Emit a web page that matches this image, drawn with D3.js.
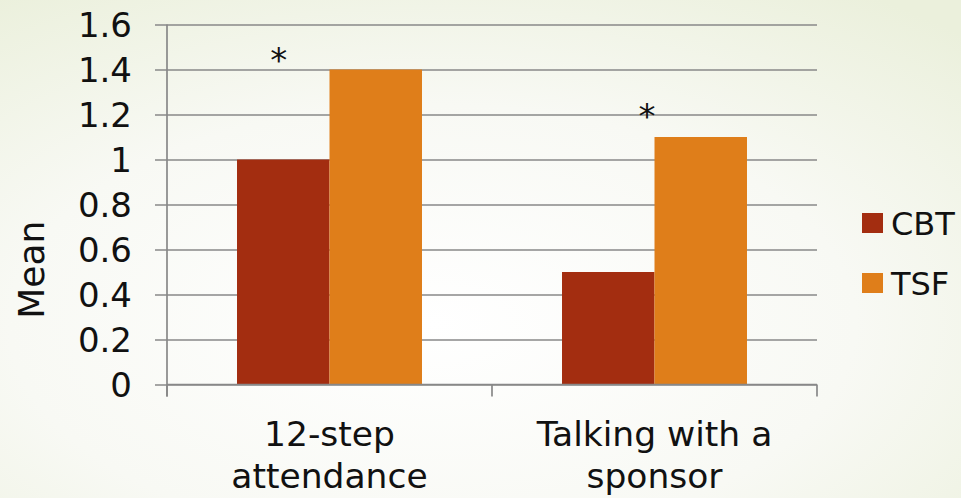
<!DOCTYPE html>
<html><head><meta charset="utf-8">
<script src="https://cdn.jsdelivr.net/npm/d3@7"></script>
<style>html,body{margin:0;padding:0;overflow:hidden}svg{display:block}</style>
</head><body>
<svg id="c" width="961" height="498"></svg>
<script>
const categories = [["12-step", "attendance"], ["Talking with a", "sponsor"]];
const seriesNames = ["CBT", "TSF"];
const cbtValues = [1.0, 0.5];
const tsfValues = [1.4, 1.1];
const yTicks = [0, 0.2, 0.4, 0.6, 0.8, 1, 1.2, 1.4, 1.6];
const starValues = [1.48, 1.23];
const colors = ["#a32d10", "#df7e1a"];

(function(){
const FONT = "'DejaVu Sans', sans-serif";
const svg = d3.select("#c");
const W = 961, H = 498;
const defs = svg.append("defs");
const rg = defs.append("radialGradient").attr("id","bg").attr("cx","0.45").attr("cy","0.65").attr("r","0.8");
rg.append("stop").attr("offset","0").attr("stop-color","#ffffff");
rg.append("stop").attr("offset","0.55").attr("stop-color","#f8f9f4");
rg.append("stop").attr("offset","1").attr("stop-color","#ebf0dc");
svg.append("rect").attr("width",W).attr("height",H).attr("fill","url(#bg)");

const pL = 167, pR = 817, pT = 24.5, pB = 384.5;
const y = d3.scaleLinear().domain([0,1.6]).range([pB, pT]);
const x0 = d3.scaleBand().domain(d3.range(categories.length)).range([pL,pR]).paddingInner(0).paddingOuter(0);
const x1 = d3.scaleBand().domain(seriesNames).range([0, x0.bandwidth()]).paddingInner(0).paddingOuter(0.757);

const yAxis = d3.axisLeft(y).tickValues(yTicks).tickSize(12).tickPadding(23)
  .tickFormat(d => d3.format("")(+d.toFixed(1)));
const gy = svg.append("g").attr("transform",`translate(${pL},0)`).call(yAxis);
gy.select(".domain").remove();
gy.selectAll(".tick line").attr("stroke","#888").attr("stroke-width",1.7).attr("x2",-12).attr("x1", pR-pL);
gy.selectAll(".tick text").attr("font-family",FONT).attr("font-size",34).attr("fill","#111").attr("dy","0.34em");
svg.append("line").attr("x1",pL).attr("x2",pL).attr("y1",y(1.6)).attr("y2",pB+12)
  .attr("stroke","#888").attr("stroke-width",1.7);

const data = categories.map((c,i)=>({i, vals:[cbtValues[i], tsfValues[i]]}));
const groups = svg.append("g").selectAll("g").data(data).join("g")
  .attr("transform", d=>`translate(${x0(d.i)},0)`);
groups.selectAll("rect").data(d=>d.vals.map((v,k)=>({k,v}))).join("rect")
  .attr("x", d=>x1(seriesNames[d.k])).attr("width", x1.bandwidth())
  .attr("y", d=>y(d.v)).attr("height", d=>pB - y(d.v))
  .attr("fill", d=>colors[d.k]);

const gx = svg.append("g").attr("transform",`translate(0,${pB})`);
gx.append("line").attr("x1",pL).attr("x2",pR).attr("stroke","#888").attr("stroke-width",1.7);
const bounds = d3.range(categories.length+1).map(i => i<categories.length ? x0(i) : x0(i-1)+x0.bandwidth());
gx.selectAll("line.t").data(bounds).join("line").attr("class","t")
  .attr("x1",d=>d).attr("x2",d=>d).attr("y1",0).attr("y2",12).attr("stroke","#888").attr("stroke-width",1.7);
const lab = gx.selectAll("text").data(categories).join("text")
  .attr("text-anchor","middle").attr("font-family",FONT).attr("font-size",34.5).attr("fill","#111")
  .attr("x",(d,i)=>x0(i)+x0.bandwidth()/2);
lab.selectAll("tspan").data(d=>d).join("tspan")
  .attr("x",function(){return this.parentNode.getAttribute("x");})
  .attr("y",(d,j)=>61+j*42).text(d=>d);

const starX = [x1("CBT")+x1.bandwidth()*0.45, x1("TSF")-x1.bandwidth()*0.08];
svg.selectAll("text.star").data(starValues).join("text").attr("class","star")
  .attr("x",(d,i)=>x0(i)+starX[i]).attr("y",d=>y(d)+20)
  .attr("text-anchor","middle").attr("font-family",FONT).attr("font-size",34).attr("fill","#111")
  .text("*");

svg.append("text").attr("transform",`translate(44,${y(0.51)}) rotate(-90)`)
  .attr("text-anchor","middle").attr("font-family",FONT).attr("font-size",36).attr("fill","#111").text("Mean");

const lg = svg.append("g").attr("transform","translate(862,213)");
const li = lg.selectAll("g").data(seriesNames).join("g").attr("transform",(d,i)=>`translate(0,${i*60})`);
li.append("rect").attr("width",21).attr("height",20).attr("fill",(d,i)=>colors[i]);
li.append("text").attr("x",29).attr("y",22).attr("font-family",FONT).attr("font-size",32).attr("fill","#111").text(d=>d);
})();
</script>
</body></html>
